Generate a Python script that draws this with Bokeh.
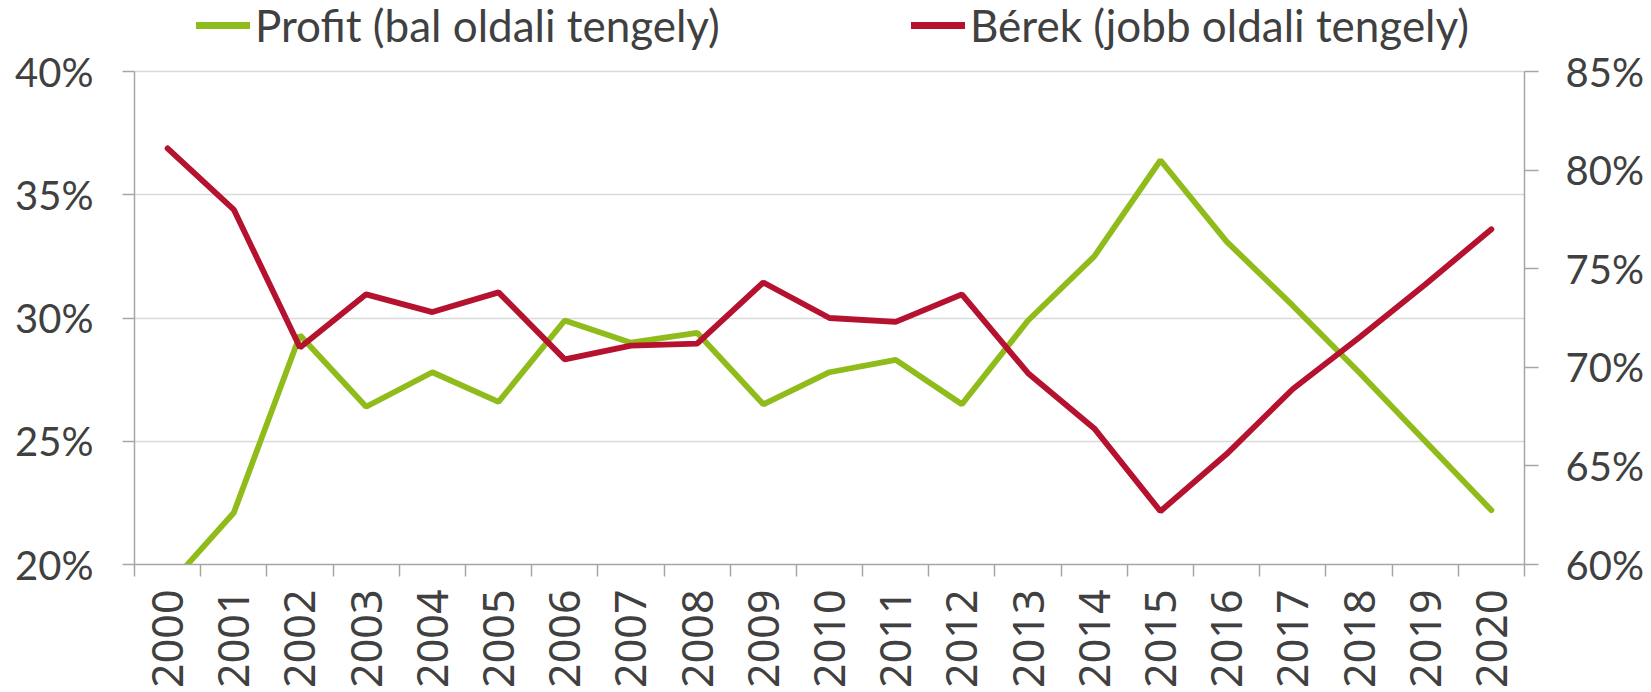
from bokeh.plotting import figure
from bokeh.models import (Range1d, LinearAxis, FixedTicker, PrintfTickFormatter,
                          Legend, LegendItem, ColumnDataSource)
from bokeh.embed import file_html
from bokeh.resources import INLINE
from math import pi

years = ["2000", "2001", "2002", "2003", "2004", "2005", "2006", "2007", "2008", "2009",
         "2010", "2011", "2012", "2013", "2014", "2015", "2016", "2017", "2018", "2019", "2020"]
profit = [19.1, 22.1, 29.3, 26.4, 27.8, 26.6, 29.9, 29.0, 29.4, 26.5,
          27.8, 28.3, 26.5, 29.9, 32.5, 36.4, 33.1, 30.5, 27.8, 25.0, 22.2]
berek = [81.1, 78.0, 71.0, 73.7, 72.8, 73.8, 70.4, 71.1, 71.2, 74.3,
         72.5, 72.3, 73.7, 69.7, 66.9, 62.7, 65.6, 68.9, 71.5, 74.2, 77.0]
left_ticks = [20, 25, 30, 35, 40]
right_ticks = [60, 65, 70, 75, 80, 85]
profit_label = "Profit (bal oldali tengely)"
berek_label = "Bérek (jobb oldali tengely)"

GREEN = "#8fbc1a"
RED = "#b5122f"
TEXT = "#404040"
AXIS = "#a6a6a6"
GRID = "#d9d9d9"

# layout (pixels): plot area from y=71 (top tick) to y=564 (bottom tick)
W, H = 1648, 690
TOP_PX, BOTTOM_PX = 71, 564
span_px = BOTTOM_PX - TOP_PX
left_lo, left_hi = left_ticks[0], left_ticks[-1]
right_lo, right_hi = right_ticks[0], right_ticks[-1]
left_end = left_hi + TOP_PX * (left_hi - left_lo) / span_px
right_end = right_hi + TOP_PX * (right_hi - right_lo) / span_px

x = list(range(len(years)))

p = figure(width=W, height=H, output_backend="svg", toolbar_location=None,
           x_range=Range1d(-0.5, len(years) - 0.5),
           y_range=Range1d(left_lo, left_end),
           min_border_left=134, min_border_right=124, min_border_top=0,
           min_border_bottom=H - BOTTOM_PX,
           x_axis_location="below", y_axis_location="left")
p.outline_line_color = None
p.background_fill_color = "white"
p.border_fill_color = "white"
p.extra_y_ranges = {"right": Range1d(right_lo, right_end)}

src = ColumnDataSource(dict(x=x, profit=profit, berek=berek))
g = p.line("x", "profit", source=src, line_color=GREEN, line_width=5.8, line_cap="round")
r = p.line("x", "berek", source=src, line_color=RED, line_width=5.8, line_cap="round",
           y_range_name="right")

# legend key proxies: one NaN point (draws nothing in the plot), thicker round key line
nan = float("nan")
proxy = ColumnDataSource(dict(x=[nan], y=[nan]))
lg = p.line("x", "y", source=proxy, line_color=GREEN, line_width=7, line_cap="round")
lr = p.line("x", "y", source=proxy, line_color=RED, line_width=7, line_cap="round")

# x axis
xa = p.xaxis[0]
xa.ticker = FixedTicker(ticks=x, minor_ticks=[i - 0.5 for i in range(len(years) + 1)])
xa.major_label_overrides = {i: y for i, y in enumerate(years)}
xa.major_label_orientation = pi / 2
xa.major_tick_out = 0
xa.major_tick_in = 0
xa.minor_tick_out = 12
xa.minor_tick_in = 0
xa.minor_tick_line_color = AXIS
xa.minor_tick_line_width = 1.5
xa.axis_line_color = AXIS
xa.axis_line_width = 1.5
xa.major_label_text_font = "Noto Sans"
xa.major_label_text_font_size = "43px"
xa.major_label_text_color = TEXT
xa.major_label_standoff = 13

# left axis
ya = p.yaxis[0]
ya.ticker = FixedTicker(ticks=left_ticks)
ya.formatter = PrintfTickFormatter(format="%d%%")
ya.bounds = (left_lo, left_hi)
ya.major_tick_out = 12
ya.major_tick_in = 0
ya.minor_tick_line_color = None
ya.major_tick_line_color = AXIS
ya.major_tick_line_width = 1.5
ya.axis_line_color = AXIS
ya.axis_line_width = 1.5
ya.major_label_text_font = "Lato"
ya.major_label_text_font_size = "40px"
ya.major_label_text_color = TEXT
ya.major_label_standoff = 29

# right axis
ra = LinearAxis(y_range_name="right", ticker=FixedTicker(ticks=right_ticks),
                formatter=PrintfTickFormatter(format="%d%%"), bounds=(right_lo, right_hi))
ra.major_tick_out = 14
ra.major_tick_in = 0
ra.minor_tick_line_color = None
ra.major_tick_line_color = AXIS
ra.major_tick_line_width = 1.5
ra.axis_line_color = AXIS
ra.axis_line_width = 1.5
ra.major_label_text_font = "Lato"
ra.major_label_text_font_size = "40px"
ra.major_label_text_color = TEXT
ra.major_label_standoff = 27
p.add_layout(ra, "right")

p.xgrid.grid_line_color = None
p.ygrid.ticker = FixedTicker(ticks=left_ticks)
p.ygrid.grid_line_color = GRID
p.ygrid.grid_line_width = 1.5

legend = Legend(items=[LegendItem(label=profit_label, renderers=[lg]),
                       LegendItem(label=berek_label, renderers=[lr])],
                orientation="horizontal", location=(62, 513),
                padding=0, margin=0, spacing=0,
                glyph_width=54, glyph_height=40, label_height=40,
                label_width=656, label_standoff=5,
                label_text_font="Lato", label_text_font_size="44px",
                label_text_color=TEXT,
                border_line_color=None, background_fill_alpha=0)
p.add_layout(legend)

open("out.html", "w").write(file_html(p, INLINE))
